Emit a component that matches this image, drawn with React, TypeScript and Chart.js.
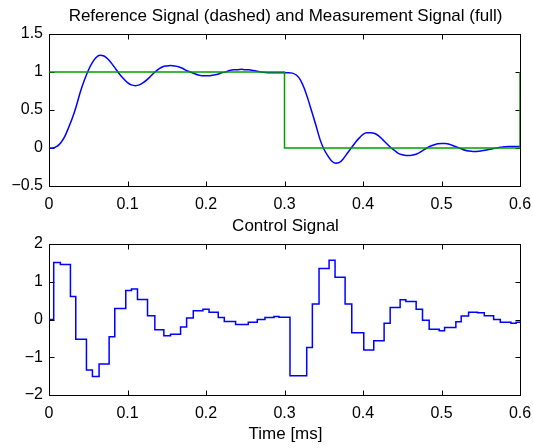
import React, { useEffect, useRef } from "react";
import { Chart, registerables } from "chart.js";

Chart.register(...registerables);

const FONT = "'Liberation Sans', Arial, Helvetica, sans-serif";

const topTitle = "Reference Signal (dashed) and Measurement Signal (full)";
const bottomTitle = "Control Signal";
const xAxisLabel = "Time [ms]";

const xTicks = [0, 0.1, 0.2, 0.3, 0.4, 0.5, 0.6];
const topYTicks = [-0.5, 0, 0.5, 1, 1.5];
const bottomYTicks = [-2, -1, 0, 1, 2];

// Reference (green) signal
const refTimes = [0, 0.3, 0.3, 0.6, 0.6];
const refValues = [1, 1, 0, 0, 1];

// Measurement (blue) signal
const measTimes = [
  0, 0.005, 0.01, 0.015, 0.02, 0.025, 0.03, 0.035, 0.04, 0.045,
  0.05, 0.055, 0.06, 0.065, 0.07, 0.075, 0.08, 0.085, 0.09, 0.095,
  0.1, 0.105, 0.11, 0.115, 0.12, 0.125, 0.13, 0.135, 0.14, 0.145,
  0.15, 0.155, 0.16, 0.165, 0.17, 0.175, 0.18, 0.185, 0.19, 0.195,
  0.2, 0.205, 0.21, 0.215, 0.22, 0.225, 0.23, 0.235, 0.24, 0.245,
  0.25, 0.255, 0.26, 0.265, 0.27, 0.275, 0.28, 0.285, 0.29, 0.295,
  0.3, 0.305, 0.31, 0.315, 0.32, 0.325, 0.33, 0.335, 0.34, 0.345,
  0.35, 0.355, 0.36, 0.365, 0.37, 0.375, 0.38, 0.385, 0.39, 0.395,
  0.4, 0.405, 0.41, 0.415, 0.42, 0.425, 0.43, 0.435, 0.44, 0.445,
  0.45, 0.455, 0.46, 0.465, 0.47, 0.475, 0.48, 0.485, 0.49, 0.495,
  0.5, 0.505, 0.51, 0.515, 0.52, 0.525, 0.53, 0.535, 0.54, 0.545,
  0.55, 0.555, 0.56, 0.565, 0.57, 0.575, 0.58, 0.585, 0.59, 0.595,
  0.6,
];
const measValues = [
  0, 0.0, 0.02, 0.07, 0.15, 0.27, 0.4, 0.56, 0.74, 0.89,
  1.02, 1.12, 1.19, 1.22, 1.21, 1.17, 1.11, 1.04, 0.97, 0.91,
  0.86, 0.83, 0.82, 0.83, 0.86, 0.9, 0.95, 1.0, 1.04, 1.07,
  1.08, 1.085, 1.08, 1.07, 1.05, 1.02, 1.0, 0.98, 0.96, 0.95,
  0.95, 0.95, 0.96, 0.97, 0.99, 1.0, 1.02, 1.03, 1.03, 1.035,
  1.03, 1.03, 1.02, 1.01, 1.0, 0.995, 0.99, 0.99, 0.99, 0.99,
  0.99, 0.99, 0.985, 0.96, 0.9, 0.79, 0.64, 0.47, 0.3, 0.12,
  -0.01, -0.1, -0.17, -0.2, -0.19, -0.14, -0.07, 0.0, 0.07, 0.13,
  0.18, 0.2, 0.2, 0.19, 0.16, 0.11, 0.06, 0.01, -0.03, -0.07,
  -0.09, -0.1, -0.1, -0.09, -0.07, -0.04, -0.01, 0.02, 0.04, 0.055,
  0.06, 0.06, 0.05, 0.03, 0.01, -0.01, -0.03, -0.04, -0.045, -0.045,
  -0.04, -0.03, -0.02, -0.01, 0.0, 0.01, 0.015, 0.02, 0.02, 0.02,
  0.02,
];

// Control signal (zero-order hold: each value holds from its time on)
const ctrlTimes = [
  0, 0.006, 0.0145, 0.0273, 0.0341, 0.0477, 0.0553, 0.0638, 0.0766, 0.0838,
  0.0978, 0.1051, 0.1127, 0.1255, 0.1348, 0.1463, 0.1548, 0.1676, 0.1753, 0.1838,
  0.1961, 0.2039, 0.2156, 0.2233, 0.2377, 0.2539, 0.2653, 0.2751, 0.2866, 0.293,
  0.307, 0.3283, 0.3355, 0.344, 0.3568, 0.3644, 0.3772, 0.3857, 0.401, 0.4137,
  0.4269, 0.4346, 0.4473, 0.4546, 0.4677, 0.4758, 0.4843, 0.4971, 0.5039, 0.5183,
  0.5251, 0.5345, 0.5459, 0.5545, 0.5664, 0.5749, 0.5885, 0.595, 0.6,
];
const ctrlValues = [
  0, 1.51, 1.46, 0.61, -0.52, -1.34, -1.51, -1.18, -0.46, 0.29,
  0.77, 0.81, 0.53, 0.1, -0.27, -0.43, -0.39, -0.2, 0.04, 0.23,
  0.27, 0.19, 0.05, -0.05, -0.13, -0.07, 0.0, 0.05, 0.08, 0.06,
  -1.49, -0.74, 0.41, 1.35, 1.57, 1.12, 0.41, -0.35, -0.81, -0.56,
  -0.1, 0.32, 0.52, 0.48, 0.27, -0.02, -0.26, -0.3, -0.21, -0.06,
  0.09, 0.19, 0.18, 0.1, 0.0, -0.07, -0.1, -0.07, -0.07,
];

const fmt = (v: number) => (v < 0 ? "\u2212" + String(Math.abs(v)) : String(v));

const pts = (xs: number[], ys: number[]) => xs.map((x, i) => ({ x, y: ys[i] }));

function framePlugin(yTicks: number[]) {
  return {
    id: "frame",
    beforeDatasetsDraw(chart: any) {
      const { ctx, chartArea: a, scales } = chart;
      ctx.save();
      ctx.strokeStyle = "#000";
      ctx.lineWidth = 1;
      const L = Math.round(a.left) + 0.5;
      const R = Math.round(a.right) + 0.5;
      const T = Math.round(a.top) + 0.5;
      const B = Math.round(a.bottom) + 0.5;
      ctx.strokeRect(L, T, R - L, B - T);
      const tl = 5;
      ctx.beginPath();
      xTicks.forEach((v) => {
        const px = Math.round(scales.x.getPixelForValue(v)) + 0.5;
        ctx.moveTo(px, B);
        ctx.lineTo(px, B - tl);
        ctx.moveTo(px, T);
        ctx.lineTo(px, T + tl);
      });
      yTicks.forEach((v) => {
        const py = Math.round(scales.y.getPixelForValue(v)) + 0.5;
        ctx.moveTo(L, py);
        ctx.lineTo(L + tl, py);
        ctx.moveTo(R, py);
        ctx.lineTo(R - tl, py);
      });
      ctx.stroke();
      ctx.restore();
    },
  };
}

function textPlugin(title: string, titleBaseline: number, xLabel?: string, xLabelBaseline?: number) {
  return {
    id: "texts",
    afterDraw(chart: any) {
      const { ctx, chartArea: a } = chart;
      ctx.save();
      ctx.fillStyle = "#000";
      ctx.font = `17px ${FONT}`;
      ctx.textAlign = "center";
      ctx.textBaseline = "alphabetic";
      const cx = (a.left + a.right) / 2 + 1;
      ctx.fillText(title, cx, titleBaseline);
      if (xLabel && xLabelBaseline !== undefined) {
        ctx.fillText(xLabel, cx, xLabelBaseline);
      }
      ctx.restore();
    },
  };
}

function makeScales(yTicks: number[], xHeight: number) {
  const tickFont = { family: FONT, size: 16 };
  return {
    x: {
      type: "linear" as const,
      min: 0,
      max: 0.6,
      afterBuildTicks: (s: any) => {
        s.ticks = xTicks.map((value) => ({ value }));
      },
      afterFit: (s: any) => {
        s.height = xHeight;
        s.paddingLeft = 0;
        s.paddingRight = 0;
      },
      grid: { display: false, drawTicks: false },
      border: { display: false },
      ticks: {
        font: tickFont,
        color: "#000",
        padding: 9,
        maxRotation: 0,
        autoSkip: false,
        callback: (v: any) => fmt(Number(v)),
      },
    },
    y: {
      type: "linear" as const,
      min: yTicks[0],
      max: yTicks[yTicks.length - 1],
      afterBuildTicks: (s: any) => {
        s.ticks = yTicks.map((value) => ({ value }));
      },
      afterFit: (s: any) => {
        s.width = 49;
        s.paddingTop = 0;
        s.paddingBottom = 0;
      },
      grid: { display: false, drawTicks: false },
      border: { display: false },
      ticks: {
        font: tickFont,
        color: "#000",
        padding: 6,
        autoSkip: false,
        callback: (v: any) => fmt(Number(v)),
      },
    },
  };
}

export default function App() {
  const topRef = useRef<HTMLCanvasElement>(null);
  const botRef = useRef<HTMLCanvasElement>(null);

  useEffect(() => {
    const top = new Chart(topRef.current!, {
      type: "line",
      data: {
        datasets: [
          {
            label: "Reference",
            data: pts(refTimes, refValues),
            borderColor: "#00a000",
            borderWidth: 1.5,
            pointRadius: 0,
            tension: 0,
            fill: false,
          },
          {
            label: "Measurement",
            data: pts(measTimes, measValues),
            borderColor: "#0000ff",
            borderWidth: 1.5,
            pointRadius: 0,
            cubicInterpolationMode: "monotone",
            fill: false,
          },
        ],
      },
      options: {
        responsive: false,
        animation: false,
        devicePixelRatio: 1,
        layout: { padding: { left: 0, right: 13, top: 34, bottom: 0 } },
        plugins: { legend: { display: false }, tooltip: { enabled: false }, title: { display: false } },
        scales: makeScales(topYTicks, 24) as any,
      },
      plugins: [framePlugin(topYTicks), textPlugin(topTitle, 21)],
    });

    const bot = new Chart(botRef.current!, {
      type: "line",
      data: {
        datasets: [
          {
            label: "Control",
            data: pts(ctrlTimes, ctrlValues),
            borderColor: "#0000ff",
            borderWidth: 1.5,
            pointRadius: 0,
            stepped: "before",
            fill: false,
          },
        ],
      },
      options: {
        responsive: false,
        animation: false,
        devicePixelRatio: 1,
        layout: { padding: { left: 0, right: 13, top: 34, bottom: 0 } },
        plugins: { legend: { display: false }, tooltip: { enabled: false }, title: { display: false } },
        scales: makeScales(bottomYTicks, 53) as any,
      },
      plugins: [framePlugin(bottomYTicks), textPlugin(bottomTitle, 21, xAxisLabel, 229)],
    });

    return () => {
      top.destroy();
      bot.destroy();
    };
  }, []);

  return (
    <div style={{ position: "absolute", left: 0, top: 0, width: 533, height: 448, background: "#fff" }}>
      <canvas
        ref={topRef}
        width={533}
        height={210}
        style={{ position: "absolute", left: 0, top: 0, width: 533, height: 210, display: "block" }}
      />
      <canvas
        ref={botRef}
        width={533}
        height={238}
        style={{ position: "absolute", left: 0, top: 210, width: 533, height: 238, display: "block" }}
      />
    </div>
  );
}
